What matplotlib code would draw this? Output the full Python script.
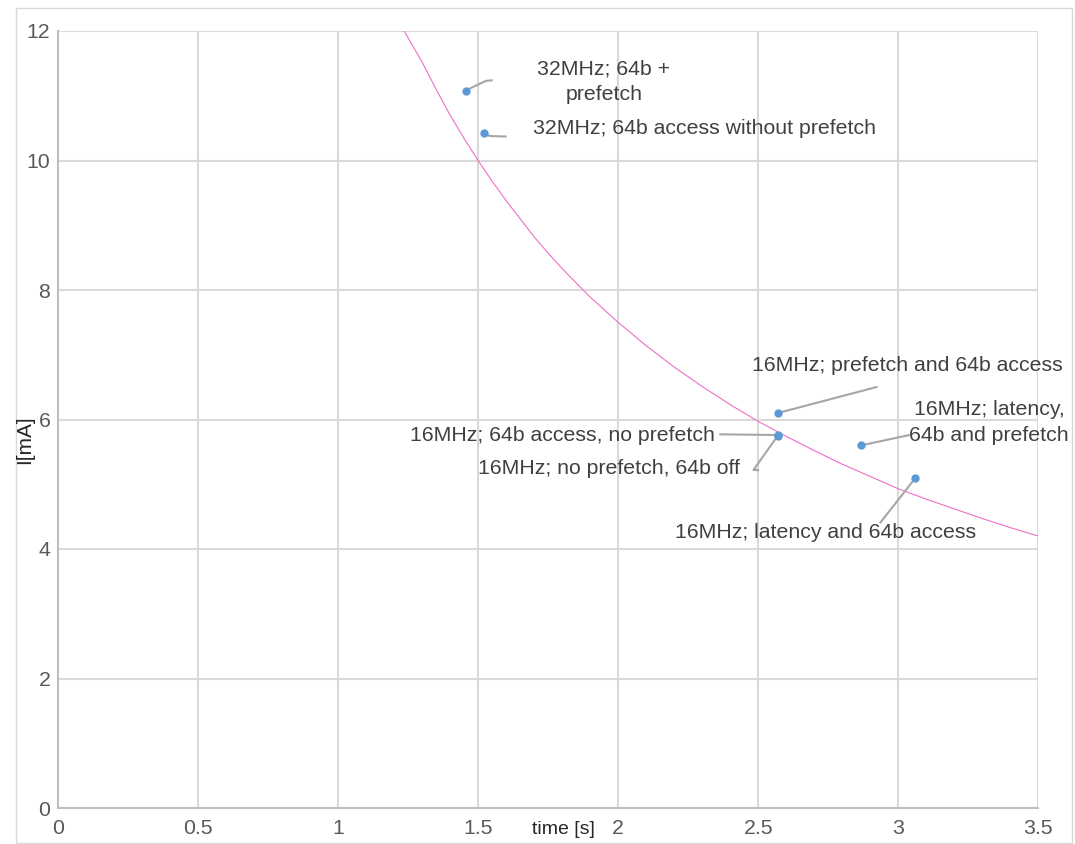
import matplotlib
matplotlib.use("Agg")
import matplotlib.pyplot as plt
from matplotlib.patches import Rectangle

# measured operating points
time_s = [1.455, 1.52, 2.57, 2.57, 2.57, 2.867, 3.06]
current_ma = [11.08, 10.42, 6.10, 5.76, 5.75, 5.60, 5.09]
point_labels = [
    "32MHz; 64b +\nprefetch",
    "32MHz; 64b access without prefetch",
    "16MHz; prefetch and 64b access",
    "16MHz; 64b access, no prefetch",
    "16MHz; no prefetch, 64b off",
    "16MHz; latency,\n64b and prefetch",
    "16MHz; latency and 64b access",
]

# equal-charge reference curve
curve_t = [1.20, 1.236, 1.30, 1.35, 1.40, 1.45, 1.50, 1.55, 1.60, 1.70, 1.75, 1.80,
           1.90, 2.00, 2.10, 2.20, 2.30, 2.40, 2.50, 2.60, 2.70, 2.80, 2.90,
           3.00, 3.10, 3.20, 3.30, 3.40, 3.50]
curve_i = [12.42, 12.00, 11.52, 11.10, 10.70, 10.34, 10.00, 9.68, 9.38, 8.82, 8.57, 8.33,
           7.89, 7.50, 7.14, 6.81, 6.51, 6.23, 5.97, 5.74, 5.52, 5.31, 5.12,
           4.93, 4.77, 4.62, 4.47, 4.33, 4.20]

x_ticks = [0, 0.5, 1, 1.5, 2, 2.5, 3, 3.5]
x_tick_labels = ["0", "0.5", "1", "1.5", "2", "2.5", "3", "3.5"]
y_ticks = [0, 2, 4, 6, 8, 10, 12]

# label placement: text centre and leader path (data units)
label_xy = [
    (1.949, 11.22), (2.308, 10.49), (3.031, 6.84), (1.801, 5.76),
    (1.967, 5.25), (3.324, 5.95), (2.742, 4.26),
]
leader_paths = [
    [(1.528, 11.23), (1.552, 11.24)],
    [(1.542, 10.378), (1.602, 10.37)],
    [(2.926, 6.505)],
    [(2.361, 5.771)],
    [(2.483, 5.22), (2.503, 5.22)],
    [(3.041, 5.761)],
    [(2.934, 4.397)],
]

W, H, DPI = 1075, 844, 100
plt.rcParams["font.family"] = ["Liberation Sans", "DejaVu Sans"]
fig = plt.figure(figsize=(W / DPI, H / DPI), dpi=DPI)

# outer chart frame
fig.patches.append(Rectangle((16 / W, 1 - 843 / H), (1072 - 16) / W, (843 - 8) / H,
                             transform=fig.transFigure, fill=False,
                             edgecolor="#d9d9d9", linewidth=1.0))

ax = fig.add_axes([58 / W, 1 - 808 / H, (1038.3 - 58) / W, (808 - 31) / H])
ax.set_xlim(0, 3.5)
ax.set_ylim(0, 12)
ax.set_xticks(x_ticks)
ax.set_xticklabels(x_tick_labels)
ax.set_yticks(y_ticks)
ax.grid(True, color="#d9d9d9", linewidth=1.5)
ax.set_axisbelow(True)
for side in ("top", "right"):
    ax.spines[side].set_visible(False)
for side in ("left", "bottom"):
    ax.spines[side].set_color("#bfbfbf")
    ax.spines[side].set_linewidth(1.5)
ax.tick_params(length=0, labelsize=15.3, labelcolor="#595959")
ax.tick_params(axis="x", pad=8)
ax.tick_params(axis="y", pad=5.5)

ax.plot(curve_t, curve_i, color="#EE6FC6", linewidth=0.8, zorder=2)

for (px, py), path in zip(zip(time_s, current_ma), leader_paths):
    xs = [px] + [p[0] for p in path]
    ys = [py] + [p[1] for p in path]
    ax.plot(xs, ys, color="#a6a6a6", linewidth=1.5, zorder=3, solid_capstyle="butt")

ax.scatter(time_s, current_ma, s=36, color="#5B9BD5", zorder=4, linewidths=0)

for text, (tx, ty) in zip(point_labels, label_xy):
    ax.text(tx, ty, text, ha="center", va="center", fontsize=15.3,
            color="#404040", linespacing=1.45, zorder=5)

fig.text(563 / W, 1 - 829 / H, "time [s]", ha="center", va="center",
         fontsize=14, color="#262626")
fig.text(25 / W, 1 - 440 / H, "I[mA]", ha="center", va="center",
         rotation=90, fontsize=15, color="#262626")

fig.savefig("out.png", dpi=DPI)
